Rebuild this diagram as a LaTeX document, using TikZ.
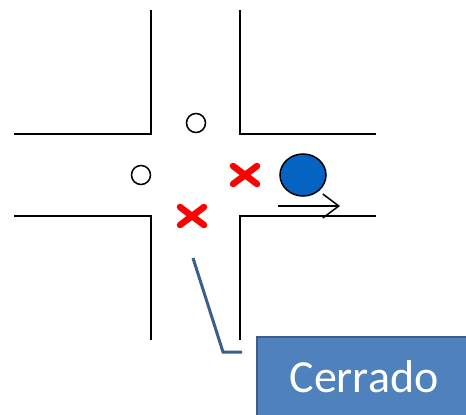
\documentclass[tikz,border=0pt]{standalone}
\usepackage{fontspec}
\newfontfamily\calibri{Carlito}
\usetikzlibrary{arrows.meta, calc, shapes.geometric}
\definecolor{boxfill}{HTML}{4F81BD}
\definecolor{boxline}{HTML}{3A5F8E}
\definecolor{carblue}{HTML}{0563C1}
\definecolor{stopred}{HTML}{FF0000}
\tikzset{
  road/.style={line width=2pt, black, line cap=rect},
  marker/.style={circle, draw=black, line width=1.5pt, minimum size=19pt, inner sep=0pt},
  car/.style={ellipse, draw=black, line width=1.5pt, fill=carblue, minimum width=46pt, minimum height=42pt, inner sep=0pt},
  cross/.style={stopred, line width=6.5pt, line cap=round},
  drive/.style={line width=1.5pt, -{Straight Barb[length=16pt, width=24pt, line width=1.5pt]}},
  label box/.style={rectangle, draw=boxline, line width=2.5pt, fill=boxfill, text=white,
    minimum width=214pt, minimum height=80pt, font=\calibri\fontsize{46}{50}\selectfont},
  callout/.style={boxline, line width=3pt}
}
\begin{document}
\begin{tikzpicture}[x=1pt, y=-1pt]
  \useasboundingbox (0,0) rectangle (466,415);
  % crossroads kerbs
  \draw[road] (151,11) -- (151,134) -- (15,134);
  \draw[road] (240,11) -- (240,134) -- (375,134);
  \draw[road] (15,216) -- (151,216) -- (151,339);
  \draw[road] (375,216) -- (240,216) -- (240,339);
  % open positions
  \node[marker] (openN) at (196,123) {};
  \node[marker] (openW) at (141,175) {};
  % blocked positions
  \coordinate (blockE) at (245,175);
  \coordinate (blockS) at (192,216);
  \foreach \c in {blockE, blockS} {
    \draw[cross] ($(\c)+(-12,-9)$) -- ($(\c)+(12,9)$);
    \draw[cross] ($(\c)+(-12,9)$) -- ($(\c)+(12,-9)$);
  }
  % vehicle and its direction
  \node[car] (car) at (303,175) {};
  \coordinate (driveA) at (278,206);
  \coordinate (driveB) at (340,206);
  \draw[drive] (driveA) -- (driveB);
  % label with callout
  \node[label box] (cerrado) at (364,377) {Cerrado};
  \coordinate (tip) at (193,258);
  \coordinate (elbow) at (223,352);
  \coordinate (foot) at (242,352);
  \draw[callout] (tip) -- (elbow) -- (foot);
\end{tikzpicture}
\end{document}
